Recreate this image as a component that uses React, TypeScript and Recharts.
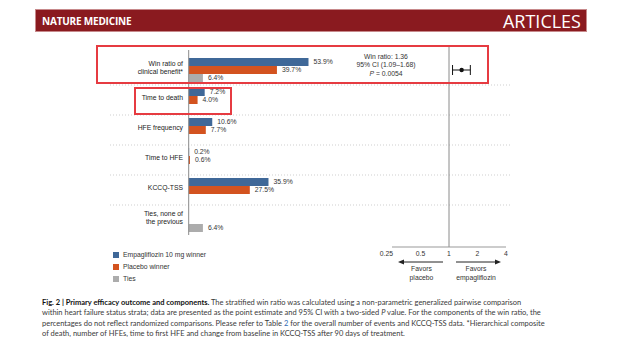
import {
  BarChart,
  Bar,
  XAxis,
  YAxis,
  ReferenceLine,
  LabelList,
  Legend,
  ScatterChart,
  Scatter,
  ErrorBar,
} from 'recharts';

const categories = [
  'Win ratio of\nclinical benefit*',
  'Time to death',
  'HFE frequency',
  'Time to HFE',
  'KCCQ-TSS',
  'Ties, none of\nthe previous',
];
const empaWinner = [53.9, 7.2, 10.6, 0.2, 35.9, 0];
const placeboWinner = [39.7, 4.0, 7.7, 0.6, 27.5, 0];
const tiesPct = [6.4, null, null, null, null, 6.4];

const winRatio = [1.36, null, null, null, null, null];
const ciLow = [1.09, null, null, null, null, null];
const ciHigh = [1.68, null, null, null, null, null];
const ratioTicks = [0.25, 0.5, 1, 2, 4];

const rows = categories.map((name, i) => ({
  name,
  empa: empaWinner[i],
  placebo: placeboWinner[i],
  ties: tiesPct[i],
  ratio: winRatio[i],
  ci: winRatio[i] == null ? null : [winRatio[i]! - ciLow[i]!, ciHigh[i]! - winRatio[i]!],
}));

const FONT = '"Liberation Sans", Arial, Helvetica, sans-serif';
const BLUE = '#3f6898';
const ORANGE = '#d3531f';
const GREY = '#acacac';
const TXT = '#333';
const FS = 6.8;

// bar panel geometry: plot spans the dotted separators, 0% sits at the inner axis
const PCT_DOMAIN = [-35.4, 145];
const BAR_LEFT = 110;
const BAR_WIDTH = 400;
const zeroX = BAR_LEFT + ((0 - PCT_DOMAIN[0]) / (PCT_DOMAIN[1] - PCT_DOMAIN[0])) * BAR_WIDTH;

const pct = (v: any) => (v ? `${Number(v).toFixed(1)}%` : '');

function CategoryTick(props: any) {
  const { y, payload } = props;
  const x = zeroX - 5.5;
  const lines = String(payload?.value ?? '').split('\n');
  const lh = 8.5;
  const y0 = y - 2.5 - ((lines.length - 1) * lh) / 2;
  return (
    <g>
      {lines.map((l, i) => (
        <text key={i} x={x} y={y0 + i * lh} dy="0.35em" textAnchor="end" fontSize={FS} fill="#222">{l}</text>
      ))}
    </g>
  );
}

function RatioTick({ x, y, payload, index }: any) {
  const first = index === 0;
  return (
    <text x={first ? x + 1 : x} y={y} dy="0.71em" textAnchor={first ? 'end' : 'middle'} fontSize={FS} fill={TXT}>
      {payload.value}
    </text>
  );
}

export default function App() {
  return (
    <div style={{ position: 'absolute', left: 0, top: 0, width: 624, height: 351, background: '#fff', fontFamily: FONT }}>
      {/* journal header */}
      <div style={{
        position: 'absolute', left: 35, top: 9, width: 552, height: 23, boxSizing: 'border-box',
        background: '#8a1a1f', border: '1px solid #c7898b', display: 'flex', alignItems: 'center',
        justifyContent: 'space-between', padding: '0 5px 0 6px', color: '#fff', fontFamily: '"Open Sans", sans-serif',
      }}>
        <span style={{ fontWeight: 700, fontSize: 10, letterSpacing: -0.2 }}>NATURE MEDICINE</span>
        <span style={{ fontWeight: 400, fontSize: 18, lineHeight: '20px' }}>ARTICLES</span>
      </div>

      {/* bar part */}
      <div style={{ position: 'absolute', left: 0, top: 0 }}>
        <BarChart
          width={624}
          height={351}
          data={rows}
          layout="vertical"
          margin={{ top: 50, right: 624 - BAR_LEFT - BAR_WIDTH - 1, bottom: 116, left: BAR_LEFT - 1 }}
          barCategoryGap={3}
          barGap={0}
        >
          <XAxis type="number" hide domain={PCT_DOMAIN} allowDataOverflow />
          <YAxis
            type="category"
            dataKey="name"
            width={1}
            axisLine={false}
            tickLine={false}
            interval={0}
            tick={(p: any) => <CategoryTick {...p} />}
            padding={{ top: 5, bottom: 0 }}
          />
          {categories.slice(1).map((c) => (
            <ReferenceLine key={c} y={c} position="start" stroke="#cfcfcf" strokeDasharray="1 2" />
          ))}
          <ReferenceLine x={0} stroke="#8a8a8a" />
          <Bar dataKey="empa" name="Empagliflozin 10 mg winner" fill={BLUE} isAnimationActive={false}>
            <LabelList dataKey="empa" position="right" offset={5} formatter={pct} fill={TXT} fontSize={FS} />
          </Bar>
          <Bar dataKey="placebo" name="Placebo winner" fill={ORANGE} isAnimationActive={false}>
            <LabelList dataKey="placebo" position="right" offset={5} formatter={pct} fill={TXT} fontSize={FS} />
          </Bar>
          <Bar dataKey="ties" name="Ties" fill={GREY} isAnimationActive={false}>
            <LabelList dataKey="ties" position="right" offset={5} formatter={pct} fill={TXT} fontSize={FS} />
          </Bar>
          <Legend
            layout="vertical"
            align="center"
            verticalAlign="middle"
            iconType="square"
            iconSize={6}
            formatter={(v: string) => <span style={{ color: TXT }}>{v}</span>}
            wrapperStyle={{ left: 113, top: 249, width: 200, fontSize: FS, lineHeight: '12px' }}
          />
        </BarChart>
      </div>

      {/* win ratio forest part */}
      <div style={{ position: 'absolute', left: 0, top: 0 }}>
        <ScatterChart width={624} height={351} margin={{ top: 45, right: 118, bottom: 74, left: 392 }}>
          <XAxis
            type="number"
            dataKey="ratio"
            scale="log"
            domain={[0.25, 4]}
            ticks={ratioTicks}
            allowDataOverflow
            interval={0}
            axisLine={{ stroke: '#999' }}
            tickLine={false}
            tickSize={0}
            tickMargin={4}
            tick={<RatioTick />}
            height={30}
          />
          <YAxis type="category" dataKey="name" hide reversed padding={{ top: 10, bottom: 12 }} />
          <ReferenceLine x={1} stroke="#8a8a8a" />
          <Scatter
            data={rows}
            fill="#111"
            isAnimationActive={false}
            shape={(p: any) => <circle cx={p.cx} cy={p.cy} r={2.2} fill="#111" />}
          >
            <ErrorBar dataKey="ci" direction="x" width={5} stroke="#111" strokeWidth={1} />
          </Scatter>
        </ScatterChart>
      </div>

      {/* win ratio summary */}
      <div style={{
        position: 'absolute', left: 336, top: 52.5, width: 100, textAlign: 'center',
        fontSize: FS, lineHeight: '8.5px', color: TXT,
      }}>
        <div>Win ratio: 1.36</div>
        <div>95% CI (1.09–1.68)</div>
        <div><i>P</i> = 0.0054</div>
      </div>

      {/* favours arrows */}
      <svg width={624} height={351} style={{ position: 'absolute', left: 0, top: 0, pointerEvents: 'none' }}>
        <line x1={443} y1={262} x2={402} y2={262} stroke="#222" strokeWidth={1} />
        <polygon points="398,262 404,259.5 404,264.5" fill="#222" />
        <line x1={456} y1={262} x2={497} y2={262} stroke="#222" strokeWidth={1} />
        <polygon points="501,262 495,259.5 495,264.5" fill="#222" />
        <text x={421.5} y={269} dy="0.35em" textAnchor="middle" fontSize={FS} fill={TXT}>Favors</text>
        <text x={421.5} y={278} dy="0.35em" textAnchor="middle" fontSize={FS} fill={TXT}>placebo</text>
        <text x={476} y={269} dy="0.35em" textAnchor="middle" fontSize={FS} fill={TXT}>Favors</text>
        <text x={476} y={278} dy="0.35em" textAnchor="middle" fontSize={FS} fill={TXT}>empagliflozin</text>
      </svg>

      {/* highlight boxes */}
      <div style={{ position: 'absolute', left: 96, top: 45, width: 393, height: 39, boxSizing: 'border-box', border: '2px solid #e63b41' }} />
      <div style={{ position: 'absolute', left: 134, top: 87, width: 98, height: 28, boxSizing: 'border-box', border: '2px solid #e63b41' }} />

      {/* caption */}
      <div style={{
        position: 'absolute', left: 42, top: 297.5, fontFamily: 'Lato, sans-serif', fontSize: 7.5,
        lineHeight: '10.5px', color: '#3a3a3a', whiteSpace: 'nowrap',
      }}>
        <div>
          <b style={{ color: '#111' }}>Fig. 2 | Primary efficacy outcome and components.</b> The stratified win ratio was calculated using a non-parametric generalized pairwise comparison
        </div>
        <div>
          within heart failure status strata; data are presented as the point estimate and 95% CI with a two-sided <i>P</i> value. For the components of the win ratio, the
        </div>
        <div>
          percentages do not reflect randomized comparisons. Please refer to Table <span style={{ color: '#2f6db5' }}>2</span> for the overall number of events and KCCQ-TSS data. *Hierarchical composite
        </div>
        <div>of death, number of HFEs, time to first HFE and change from baseline in KCCQ-TSS after 90 days of treatment.</div>
      </div>
    </div>
  );
}
